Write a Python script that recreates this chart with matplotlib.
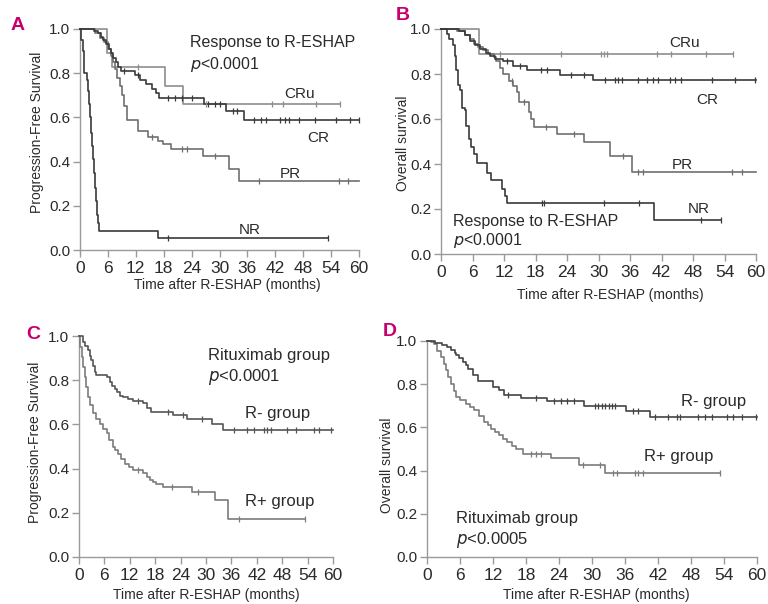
import numpy as np
import matplotlib
matplotlib.use("Agg")
import matplotlib.pyplot as plt

plt.rcParams['font.family'] = ['Liberation Sans', 'DejaVu Sans']

# ---------------- data ----------------
x_ticks = [0, 6, 12, 18, 24, 30, 36, 42, 48, 54, 60]
y_ticks = [0.0, 0.2, 0.4, 0.6, 0.8, 1.0]
x_label = "Time after R-ESHAP (months)"

# Panel A: PFS by response
a_cru_t = [0, 5.7, 6.8, 18.2, 22.2, 55.9]
a_cru_s = [1.0, 0.89, 0.83, 0.74, 0.66, 0.66]
a_cru_c = [12.5, 27.0, 41.3, 43.7, 50.8, 55.9]

a_cr_t = [0, 3.0, 3.8, 4.5, 5.0, 5.6, 6.2, 6.7, 7.2, 7.7, 8.2, 8.8, 11.8, 13.0, 14.2, 15.5, 16.3, 17.0, 26.6, 31.4, 35.3, 60]
a_cr_s = [1.0, 0.99, 0.98, 0.965, 0.95, 0.93, 0.91, 0.89, 0.87, 0.85, 0.83, 0.81, 0.79, 0.77, 0.75, 0.73, 0.71, 0.688, 0.66, 0.628, 0.59, 0.59]
a_cr_c = [9.5, 12.5, 19.0, 20.5, 22.0, 24.0, 27.5, 29.0, 30.0, 33.0, 33.8, 37.5, 39.0, 40.0, 43.0, 44.0, 45.0, 47.0, 50.5, 55.0, 58.0, 60.0]

a_pr_t = [0, 3.2, 4.2, 5.2, 6.0, 6.6, 7.1, 7.6, 8.0, 8.5, 9.0, 9.5, 10.2, 12.4, 14.6, 16.7, 17.8, 19.6, 26.4, 32.1, 34.3, 60]
a_pr_s = [1.0, 0.98, 0.96, 0.94, 0.91, 0.88, 0.85, 0.82, 0.78, 0.74, 0.70, 0.65, 0.59, 0.54, 0.51, 0.495, 0.48, 0.458, 0.424, 0.367, 0.31, 0.31]
a_pr_c = [15.5, 22.0, 23.0, 29.0, 38.6, 55.8, 57.6]

a_nr_t = [0, 0.3, 0.6, 0.9, 1.6, 1.8, 2.0, 2.2, 2.4, 2.6, 2.8, 3.0, 3.2, 3.4, 3.6, 3.8, 4.0, 16.8, 53.3]
a_nr_s = [1.0, 0.95, 0.90, 0.80, 0.77, 0.72, 0.66, 0.60, 0.53, 0.47, 0.41, 0.35, 0.28, 0.22, 0.16, 0.12, 0.085, 0.055, 0.055]
a_nr_c = [19.0, 53.3]

# Panel B: OS by response
b_cru_t = [0, 7.3, 55.7]
b_cru_s = [1.0, 0.89, 0.89]
b_cru_c = [11.3, 22.8, 30.4, 31.0, 31.6, 41.2, 43.8, 50.4, 55.7]

b_cr_t = [0, 3.5, 4.5, 5.6, 6.5, 7.5, 8.5, 9.4, 10.3, 11.9, 13.8, 16.4, 22.7, 29.0, 60]
b_cr_s = [1.0, 0.99, 0.975, 0.948, 0.93, 0.911, 0.895, 0.881, 0.867, 0.859, 0.837, 0.818, 0.797, 0.773, 0.773]
b_cr_c = [12.5, 15.0, 19.0, 20.2, 24.7, 27.2, 31.2, 33.1, 33.8, 34.4, 37.6, 39.2, 40.4, 41.4, 43.6, 44.6, 45.8, 51.6, 56.0, 59.8]

b_pr_t = [0, 3.0, 4.5, 5.5, 6.3, 7.0, 8.0, 9.0, 10.0, 10.5, 11.2, 11.8, 12.9, 13.8, 14.5, 14.9, 16.7, 17.2, 17.7, 22.1, 27.3, 32.2, 36.3, 60]
b_pr_s = [1.0, 0.99, 0.975, 0.955, 0.935, 0.92, 0.905, 0.89, 0.875, 0.86, 0.825, 0.80, 0.77, 0.745, 0.718, 0.674, 0.63, 0.60, 0.565, 0.533, 0.496, 0.437, 0.366, 0.366]
b_pr_c = [13.5, 15.8, 20.0, 25.3, 34.7, 37.6, 38.5, 55.4, 57.3]

b_nr_t = [0, 1.1, 1.6, 2.2, 2.6, 2.9, 3.2, 3.7, 4.0, 4.6, 4.8, 5.3, 5.7, 6.2, 6.9, 8.7, 9.5, 11.6, 12.1, 12.6, 40.5, 53.3]
b_nr_s = [1.0, 0.978, 0.955, 0.93, 0.88, 0.82, 0.75, 0.73, 0.65, 0.64, 0.57, 0.51, 0.475, 0.445, 0.405, 0.36, 0.33, 0.29, 0.26, 0.225, 0.152, 0.152]
b_nr_c = [19.3, 19.7, 31.0, 37.7, 49.5, 53.3]

# Panel C: PFS by rituximab group
c_rm_t = [0, 0.9, 1.5, 2.1, 2.5, 2.9, 3.3, 3.7, 4.1, 6.5, 7.3, 7.9, 8.4, 9.0, 9.6, 10.4, 11.5, 12.8, 15.2, 16.0, 17.1, 22.3, 25.4, 31.5, 33.9, 60]
c_rm_s = [1.0, 0.974, 0.955, 0.937, 0.91, 0.89, 0.865, 0.838, 0.823, 0.815, 0.792, 0.775, 0.76, 0.745, 0.73, 0.722, 0.715, 0.707, 0.695, 0.672, 0.657, 0.642, 0.624, 0.60, 0.575, 0.575]
c_rm_c = [14.0, 21.0, 24.5, 29.0, 36.6, 39.8, 41.3, 43.7, 44.5, 45.3, 49.2, 51.2, 55.5, 56.7, 59.5]

c_rp_t = [0, 0.3, 0.6, 0.9, 1.3, 1.7, 2.1, 2.6, 3.3, 4.1, 4.9, 5.7, 6.5, 7.2, 8.0, 8.6, 9.2, 10.0, 10.8, 11.8, 12.8, 15.2, 16.0, 16.7, 17.5, 18.3, 19.9, 26.6, 32.1, 35.3, 53.3]
c_rp_s = [1.0, 0.95, 0.906, 0.86, 0.816, 0.77, 0.725, 0.69, 0.65, 0.625, 0.604, 0.58, 0.559, 0.53, 0.498, 0.483, 0.468, 0.445, 0.423, 0.405, 0.393, 0.378, 0.36, 0.347, 0.34, 0.332, 0.317, 0.295, 0.257, 0.174, 0.174]
c_rp_c = [14.0, 22.0, 28.0, 37.8, 53.3]

# Panel D: OS by rituximab group
d_rm_t = [0, 1.5, 2.8, 3.6, 4.4, 5.0, 5.3, 5.9, 6.5, 7.0, 7.4, 8.3, 9.2, 12.0, 13.1, 14.0, 17.1, 21.9, 28.6, 36.2, 40.5, 60]
d_rm_s = [1.0, 0.99, 0.98, 0.97, 0.957, 0.945, 0.934, 0.92, 0.903, 0.888, 0.872, 0.841, 0.815, 0.787, 0.772, 0.749, 0.735, 0.72, 0.70, 0.676, 0.647, 0.647]
d_rm_c = [14.8, 19.8, 23.1, 24.3, 25.5, 26.7, 30.5, 31.1, 31.8, 32.4, 33.0, 33.6, 34.2, 37.5, 38.4, 41.5, 43.9, 45.4, 46.0, 49.3, 50.5, 51.8, 54.5, 55.7, 57.2, 59.9]

d_rp_t = [0, 0.8, 1.3, 1.9, 2.5, 3.0, 3.4, 3.9, 4.4, 4.9, 5.3, 6.0, 7.1, 7.8, 8.6, 9.5, 10.4, 11.0, 11.6, 12.3, 13.1, 13.8, 14.6, 15.4, 16.2, 17.4, 22.5, 27.6, 32.4, 53.3]
d_rp_s = [1.0, 0.994, 0.988, 0.955, 0.926, 0.895, 0.864, 0.833, 0.802, 0.77, 0.741, 0.725, 0.71, 0.695, 0.679, 0.652, 0.625, 0.61, 0.594, 0.578, 0.563, 0.548, 0.532, 0.516, 0.50, 0.478, 0.457, 0.428, 0.387, 0.387]
d_rp_c = [18.9, 19.8, 20.7, 28.3, 31.5, 33.9, 34.5, 37.8, 38.4, 39.3, 53.3]

# ---------------- styling ----------------
DARK = '#3a3a3a'
MID = '#6f6f6f'
LIGHT = '#8e8e8e'
SPINE = '#9a9a9a'
TXT = '#2a2a2a'
MAGENTA = '#c8006e'

W, H = 768, 604
fig = plt.figure(figsize=(W / 100, H / 100), dpi=100)


def make_axes(l, r, t, b):
    return fig.add_axes([l / W, 1 - b / H, (r - l) / W, (b - t) / H])


def km(ax, t, s, c, color, lw=1.2):
    ax.step(t, s, where='post', color=color, lw=lw, clip_on=False, zorder=3)
    idx = np.searchsorted(t, c, side='right') - 1
    cy = np.asarray(s)[np.clip(idx, 0, len(s) - 1)]
    ax.plot(c, cy, linestyle='none', marker='|', ms=4, mew=0.9, color=color,
            clip_on=False, zorder=4)


def style(ax, ylabel, l, r, t, b, xl_c, yl_c):
    ax.set_xlim(0, 60)
    ax.set_ylim(0, 1)
    ax.set_xticks(x_ticks)
    ax.set_yticks(y_ticks)
    ax.set_yticklabels([f"{v:.1f}" for v in y_ticks])
    for sp in ['top', 'right']:
        ax.spines[sp].set_visible(False)
    for sp in ['left', 'bottom']:
        ax.spines[sp].set_color(SPINE)
        ax.spines[sp].set_linewidth(1.0)
    ax.tick_params(axis='x', direction='out', length=5, width=1.0, color=SPINE,
                   labelsize=12.5, labelcolor=TXT, pad=3)
    ax.tick_params(axis='y', direction='out', length=5, width=1.0, color=SPINE,
                   labelsize=11, labelcolor=TXT, pad=2)
    ax.set_xlabel(x_label, fontsize=10, color=TXT)
    ax.set_ylabel(ylabel, fontsize=10, color=TXT)
    ax.xaxis.label.set_va('center')
    ax.yaxis.label.set_va('center')
    ax.xaxis.set_label_coords((xl_c[0] - l) / (r - l), (b - xl_c[1]) / (b - t))
    ax.yaxis.set_label_coords((yl_c[0] - l) / (r - l), (b - yl_c[1]) / (b - t))
    ax.patch.set_alpha(0)


txt_kw = dict(fontsize=11.5, color=TXT)
grp_kw = dict(fontsize=12, color=TXT)
lab_kw = dict(fontsize=11, color=TXT, ha='center', va='center')

# ---- Panel A ----
box = (80, 359, 29, 250)
axA = make_axes(*box)
km(axA, a_cru_t, a_cru_s, a_cru_c, LIGHT)
km(axA, a_pr_t, a_pr_s, a_pr_c, MID)
km(axA, a_cr_t, a_cr_s, a_cr_c, DARK)
km(axA, a_nr_t, a_nr_s, a_nr_c, DARK)
style(axA, "Progression-Free Survival", *box, (227, 285), (37, 132))
axA.text(23.6, 0.94, "Response to R-ESHAP", va='center', ha='left', **txt_kw)
axA.text(23.6, 0.84, r"$p$<0.0001", va='center', ha='left', **txt_kw)
axA.text(47.3, 0.706, "CRu", **lab_kw)
axA.text(51.2, 0.507, "CR", **lab_kw)
axA.text(45.2, 0.344, "PR", **lab_kw)
axA.text(36.6, 0.09, "NR", **lab_kw)

# ---- Panel B ----
box = (441, 756, 29, 254)
axB = make_axes(*box)
km(axB, b_cru_t, b_cru_s, b_cru_c, LIGHT)
km(axB, b_pr_t, b_pr_s, b_pr_c, MID)
km(axB, b_cr_t, b_cr_s, b_cr_c, DARK)
km(axB, b_nr_t, b_nr_s, b_nr_c, DARK)
style(axB, "Overall survival", *box, (610, 295), (403, 143))
axB.text(2.2, 0.144, "Response to R-ESHAP", va='center', ha='left', **txt_kw)
axB.text(2.2, 0.062, r"$p$<0.0001", va='center', ha='left', **txt_kw)
axB.text(46.3, 0.936, "CRu", **lab_kw)
axB.text(50.7, 0.684, "CR", **lab_kw)
axB.text(46.0, 0.396, "PR", **lab_kw)
axB.text(49.1, 0.20, "NR", **lab_kw)

# ---- Panel C ----
box = (79, 333, 336, 557)
axC = make_axes(*box)
km(axC, c_rp_t, c_rp_s, c_rp_c, '#7c7c7c')
km(axC, c_rm_t, c_rm_s, c_rm_c, '#555555')
style(axC, "Progression-Free Survival", *box, (206, 595), (35, 442))
axC.text(30.5, 0.914, "Rituximab group", va='center', ha='left', **grp_kw)
axC.text(30.5, 0.813, r"$p$<0.0001", va='center', ha='left', **grp_kw)
axC.text(39.2, 0.65, "R- group", va='center', ha='left', **grp_kw)
axC.text(39.2, 0.25, "R+ group", va='center', ha='left', **grp_kw)

# ---- Panel D ----
box = (427, 757, 341, 557)
axD = make_axes(*box)
km(axD, d_rp_t, d_rp_s, d_rp_c, '#7c7c7c')
km(axD, d_rm_t, d_rm_s, d_rm_c, '#444444')
style(axD, "Overall survival", *box, (596, 595), (387, 465))
axD.text(46.1, 0.719, "R- group", va='center', ha='left', **grp_kw)
axD.text(39.5, 0.464, "R+ group", va='center', ha='left', **grp_kw)
axD.text(5.2, 0.179, "Rituximab group", va='center', ha='left', **grp_kw)
axD.text(5.2, 0.079, r"$p$<0.0005", va='center', ha='left', **grp_kw)

# panel letters
for letter, (px, py) in zip("ABCD", [(18, 25), (403, 16), (33, 334), (390, 331)]):
    fig.text(px / W, 1 - py / H, letter, fontsize=14, fontweight='bold',
             color=MAGENTA, ha='center', va='center')

fig.savefig("out.png", dpi=100)
